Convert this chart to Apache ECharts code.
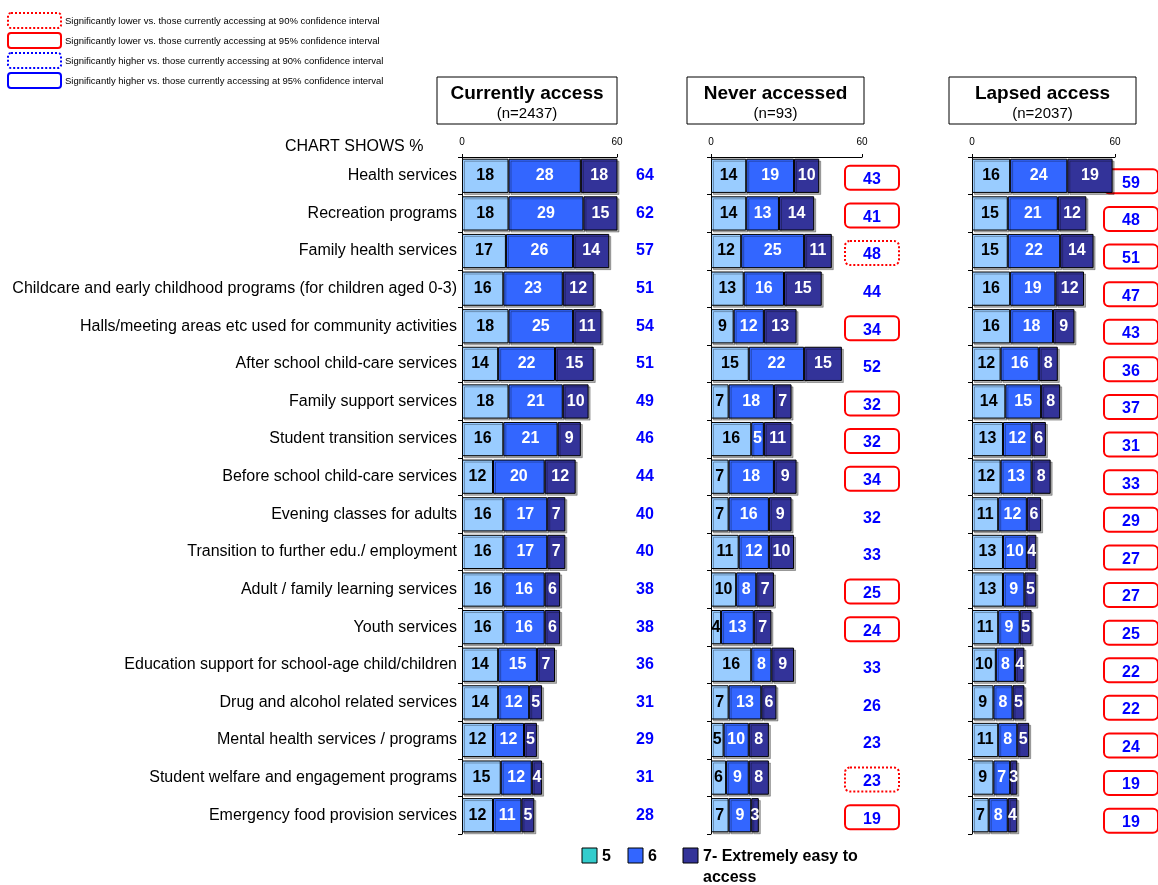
<!DOCTYPE html>
<html>
<head>
<meta charset="utf-8">
<script src="https://cdn.jsdelivr.net/npm/echarts@6/dist/echarts.min.js"></script>
<style>html,body{margin:0;padding:0;background:#fff;}#c{width:1158px;height:885px;}</style>
</head>
<body>
<div id="c"></div>
<script>
const categories = [
  'Health services','Recreation programs','Family health services',
  'Childcare and early childhood programs (for children aged 0-3)',
  'Halls/meeting areas etc used for community activities',
  'After school child-care services','Family support services',
  'Student transition services','Before school child-care services',
  'Evening classes for adults','Transition to further edu./ employment',
  'Adult / family learning services','Youth services',
  'Education support for school-age child/children',
  'Drug and alcohol related services','Mental health services / programs',
  'Student welfare and engagement programs','Emergency food provision services'
];
const panelTitles = ['Currently access','Never accessed','Lapsed access'];
const panelN = ['(n=2437)','(n=93)','(n=2037)'];
const seriesNames = ['5','6','7- Extremely easy to access'];
const axisTicks = [0, 60];

const cur5 = [18,18,17,16,18,14,18,16,12,16,16,16,16,14,14,12,15,12];
const cur6 = [28,29,26,23,25,22,21,21,20,17,17,16,16,15,12,12,12,11];
const cur7 = [18,15,14,12,11,15,10,9,12,7,7,6,6,7,5,5,4,5];
const curTotal = [64,62,57,51,54,51,49,46,44,40,40,38,38,36,31,29,31,28];
const curSig = [0,0,0,0,0,0,0,0,0,0,0,0,0,0,0,0,0,0];

const nev5 = [14,14,12,13,9,15,7,16,7,7,11,10,4,16,7,5,6,7];
const nev6 = [19,13,25,16,12,22,18,5,18,16,12,8,13,8,13,10,9,9];
const nev7 = [10,14,11,15,13,15,7,11,9,9,10,7,7,9,6,8,8,3];
const nevTotal = [43,41,48,44,34,52,32,32,34,32,33,25,24,33,26,23,23,19];
const nevSig = [2,2,1,0,2,0,2,2,2,0,0,2,2,0,0,0,1,2];

const lap5 = [16,15,15,16,16,12,14,13,12,11,13,13,11,10,9,11,9,7];
const lap6 = [24,21,22,19,18,16,15,12,13,12,10,9,9,8,8,8,7,8];
const lap7 = [19,12,14,12,9,8,8,6,8,6,4,5,5,4,5,5,3,4];
const lapTotal = [59,48,51,47,43,36,37,31,33,29,27,27,25,22,22,24,19,19];
const lapSig = [2,2,2,2,2,2,2,2,2,2,2,2,2,2,2,2,2,2];

const panels = [
  {s: [cur5, cur6, cur7], total: curTotal, sig: curSig},
  {s: [nev5, nev6, nev7], total: nevTotal, sig: nevSig},
  {s: [lap5, lap6, lap7], total: lapTotal, sig: lapSig}
];

const FONT = '"Liberation Sans", Arial, Helvetica, sans-serif';
const barColors = ['#99CCFF', '#3366FF', '#333399'];
const legendColors = ['#33CCCC', '#3366FF', '#333399'];
const labelColors = ['#000', '#fff', '#fff'];
const grids = [
  {left: 462, width: 155, top: 157, height: 677},
  {left: 711, width: 151, top: 157, height: 677},
  {left: 972, width: 143, top: 157, height: 677}
];
const totalLayout = [
  {dx: 28, boxDy: 0, textDy: 0},
  {dx: 10, boxDy: 2, textDy: 4},
  {dx: 16, boxDy: 5.5, textDy: 7.5}
];

const xAxis = [], yAxis = [], series = [];
panels.forEach((p, pi) => {
  xAxis.push({
    type: 'value', gridIndex: pi, position: 'top', min: axisTicks[0], max: axisTicks[1], interval: 60,
    splitLine: {show: false},
    axisLine: {show: true, lineStyle: {color: '#000', width: 1}},
    axisTick: {show: true, length: 3, inside: false, lineStyle: {color: '#000'}},
    axisLabel: {fontSize: 10, color: '#000', fontFamily: FONT, margin: 10}
  });
  yAxis.push({
    type: 'category', gridIndex: pi, inverse: true, data: categories,
    axisLine: {show: true, lineStyle: {color: '#000', width: 1}},
    axisTick: {show: true, length: 4, lineStyle: {color: '#000'}},
    axisLabel: {show: pi === 0, fontSize: 16, color: '#000', fontFamily: FONT, margin: 5,
      padding: [5, 0, 0, 0]}
  });
  p.s.forEach((vals, si) => {
    series.push({
      type: 'bar', name: seriesNames[si], xAxisIndex: pi, yAxisIndex: pi, stack: 'p' + pi,
      data: vals, barCategoryGap: '9%', clip: true,
      itemStyle: {color: barColors[si], borderColor: '#000', borderWidth: 1,
        shadowColor: 'rgba(0,0,0,0.3)', shadowOffsetX: 2, shadowOffsetY: 2, shadowBlur: 0},
      label: {show: true, position: 'inside', color: labelColors[si], fontSize: 16,
        fontWeight: 'bold', fontFamily: FONT, formatter: '{c}'},
      emphasis: {disabled: true}, animation: false
    });
  });
  const lay = totalLayout[pi];
  series.push({
    type: 'custom', xAxisIndex: pi, yAxisIndex: pi, clip: false, animation: false,
    data: p.total.map((t, i) => [0, i, t, p.sig[i]]),
    encode: {x: 0, y: 1},
    renderItem: function (params, api) {
      const idx = api.value(1), total = api.value(2), sig = api.value(3);
      const cy = api.coord([0, idx])[1];
      const cs = params.coordSys;
      const cx = cs.x + cs.width + lay.dx;
      const children = [];
      if (sig > 0) {
        children.push({type: 'rect',
          shape: {x: cx - 27, y: cy + lay.boxDy - 12, width: 54, height: 24, r: 5},
          style: {fill: '#fff', stroke: '#FF0000', lineWidth: 2, lineDash: sig === 1 ? [2, 2] : null}});
      }
      children.push({type: 'text',
        style: {text: String(total), x: cx, y: cy + lay.textDy, fill: '#0000FF',
          font: 'bold 16px ' + FONT, align: 'center', verticalAlign: 'middle'}});
      return {type: 'group', children: children};
    }
  });
});

const graphic = [];
const sigLegend = [
  {c: '#FF0000', dash: [2, 2], t: 'Significantly lower vs. those currently accessing at 90% confidence interval'},
  {c: '#FF0000', dash: null, t: 'Significantly lower vs. those currently accessing at 95% confidence interval'},
  {c: '#0000FF', dash: [2, 2], t: 'Significantly higher vs. those currently accessing at 90% confidence interval'},
  {c: '#0000FF', dash: null, t: 'Significantly higher vs. those currently accessing at 95% confidence interval'}
];
sigLegend.forEach((l, i) => {
  const y = 13 + i * 20;
  graphic.push({type: 'rect', shape: {x: 8, y: y, width: 53, height: 15, r: 3},
    style: {fill: '#fff', stroke: l.c, lineWidth: 2, lineDash: l.dash}});
  graphic.push({type: 'text', x: 65, y: y + 8,
    style: {text: l.t, fill: '#000', font: '9.5px ' + FONT, align: 'left', verticalAlign: 'middle'}});
});
const headerBoxes = [[437, 617], [687, 864], [949, 1136]];
headerBoxes.forEach((b, i) => {
  graphic.push({type: 'rect', shape: {x: b[0], y: 77, width: b[1] - b[0], height: 47},
    style: {fill: '#fff', stroke: '#000', lineWidth: 1}});
  const cx = (b[0] + b[1]) / 2;
  graphic.push({type: 'text', x: cx, y: 94,
    style: {text: panelTitles[i], fill: '#000', font: 'bold 19px ' + FONT, align: 'center', verticalAlign: 'middle'}});
  graphic.push({type: 'text', x: cx, y: 114,
    style: {text: panelN[i], fill: '#000', font: '15px ' + FONT, align: 'center', verticalAlign: 'middle'}});
});
graphic.push({type: 'text', x: 285, y: 147,
  style: {text: 'CHART SHOWS %', fill: '#000', font: '16px ' + FONT, align: 'left', verticalAlign: 'middle'}});
const legX = [582, 628, 683];
const legText = ['5', '6', '7- Extremely easy to'];
legX.forEach((x, i) => {
  graphic.push({type: 'rect', shape: {x: x, y: 848, width: 15, height: 15},
    style: {fill: legendColors[i], stroke: '#000', lineWidth: 1}});
  graphic.push({type: 'text', x: x + 20, y: 857,
    style: {text: legText[i], fill: '#000', font: 'bold 16px ' + FONT, align: 'left', verticalAlign: 'middle'}});
});
graphic.push({type: 'text', x: 703, y: 878,
  style: {text: 'access', fill: '#000', font: 'bold 16px ' + FONT, align: 'left', verticalAlign: 'middle'}});

const chart = echarts.init(document.getElementById('c'), null, {renderer: 'canvas'});
chart.setOption({
  animation: false,
  backgroundColor: '#fff',
  textStyle: {fontFamily: FONT},
  grid: grids,
  xAxis: xAxis,
  yAxis: yAxis,
  series: series,
  graphic: graphic
});
</script>
</body>
</html>
